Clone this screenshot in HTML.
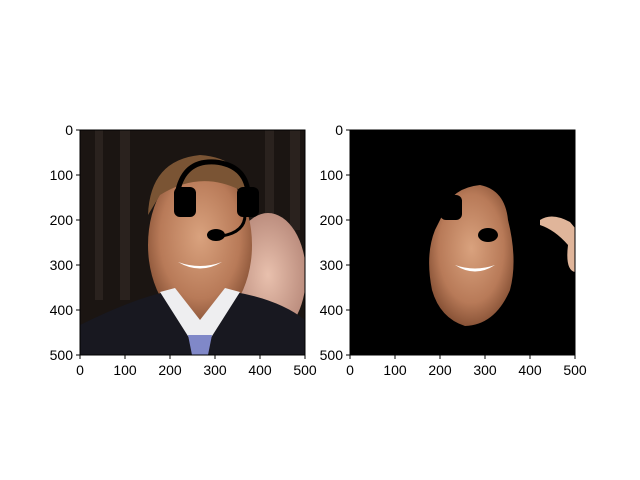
<!DOCTYPE html>
<html><head><meta charset="utf-8"><style>
body{margin:0;background:#fff;}
svg{display:block;font-family:"Liberation Sans",sans-serif;}
</style></head><body>
<svg width="640" height="480" viewBox="0 0 640 480">
<defs>
<radialGradient id="skin" cx="50%" cy="45%" r="55%"><stop offset="0" stop-color="#d9a27e"/><stop offset="0.7" stop-color="#b87a58"/><stop offset="1" stop-color="#8a5438"/></radialGradient>
<radialGradient id="skin2" cx="50%" cy="50%" r="55%"><stop offset="0" stop-color="#e8c0ad"/><stop offset="1" stop-color="#b8897a"/></radialGradient>
<clipPath id="c1"><rect x="80" y="130" width="225" height="225"/></clipPath>
<clipPath id="c2"><rect x="350" y="130" width="225" height="225"/></clipPath>
</defs>
<g id="left" clip-path="url(#c1)">
<rect x="80" y="130" width="225" height="225" fill="#1b1512"/>
<g fill="#2a221e"><rect x="95" y="130" width="8" height="170"/><rect x="120" y="130" width="10" height="170"/><rect x="265" y="130" width="9" height="100"/><rect x="290" y="130" width="10" height="100"/></g>
<ellipse cx="268" cy="275" rx="38" ry="62" fill="url(#skin2)"/>
<ellipse cx="200" cy="245" rx="52" ry="80" fill="url(#skin)"/>
<path d="M148 215 Q150 160 200 155 Q245 158 250 200 L240 190 Q200 170 160 195 Z" fill="#7a5434"/>
<path d="M80 355 L80 325 Q130 300 165 292 L200 330 L235 292 Q280 300 305 320 L305 355 Z" fill="#181820"/>
<path d="M160 292 L200 355 L240 292 L225 288 L200 320 L175 288 Z" fill="#eeeef0"/>
<path d="M188 335 L212 335 L208 355 L192 355 Z" fill="#8088c8"/>
<path d="M178 190 Q185 160 215 162 Q245 165 248 192" fill="none" stroke="#000" stroke-width="5"/>
<rect x="174" y="187" width="22" height="30" rx="6" fill="#000"/>
<rect x="237" y="187" width="22" height="30" rx="6" fill="#000"/>
<path d="M245 215 Q245 232 222 236" fill="none" stroke="#000" stroke-width="3"/>
<ellipse cx="216" cy="235" rx="9" ry="6" fill="#000"/>
<path d="M178 262 Q200 275 222 262 Q200 270 178 262 Z" fill="#fff"/>
</g>
<g id="right" clip-path="url(#c2)">
<rect x="350" y="130" width="225" height="225" fill="#000"/>
<path d="M445 210 Q452 188 480 185 Q505 190 508 220 Q518 260 510 290 Q495 325 465 326 Q440 318 432 290 Q425 255 435 230 Z" fill="url(#skin)"/>
<path d="M540 220 Q552 212 570 222 L575 228 L575 272 Q565 270 568 245 Q555 230 540 225 Z" fill="#e0b59a"/>
<rect x="440" y="195" width="22" height="25" rx="6" fill="#000"/>
<ellipse cx="488" cy="235" rx="10" ry="7" fill="#000"/>
<path d="M455 265 Q475 278 495 265 Q475 272 455 265 Z" fill="#fff"/>
</g>
<g id="axes" font-size="14" fill="#000"></g>
</svg>
<script>
const ticks=[0,100,200,300,400,500];
const tickLabels=["0","100","200","300","400","500"];
const panels=[{x:80,name:'left'},{x:350,name:'right'}];
const NS='http://www.w3.org/2000/svg';
const g=document.getElementById('axes');
const top0=130,size=225,maxV=500;
function sx(p,v){return p.x+v/maxV*size;}
function sy(v){return top0+v/maxV*size;}
function mk(t,a){const e=document.createElementNS(NS,t);for(const k in a)e.setAttribute(k,a[k]);g.appendChild(e);return e;}
panels.forEach(p=>{
  const r=mk('rect',{x:p.x,y:top0,width:size,height:size,fill:'none',stroke:'#000','stroke-width':1});
  
  
  ticks.forEach((v,i)=>{
    const x=sx(p,v),y=sy(v);
    const tx=mk('line',{x1:x,y1:top0+size,x2:x,y2:top0+size+4,stroke:'#000'});
    
    
    const lx=mk('text',{x:x,y:top0+size+20,'text-anchor':'middle'});lx.textContent=tickLabels[i];
    
    
    const ty=mk('line',{x1:p.x-4,y1:y,x2:p.x,y2:y,stroke:'#000'});
    
    
    const ly=mk('text',{x:p.x-7,y:y+5,'text-anchor':'end'});ly.textContent=tickLabels[i];
    
    
  });
});
</script>
</body></html>
